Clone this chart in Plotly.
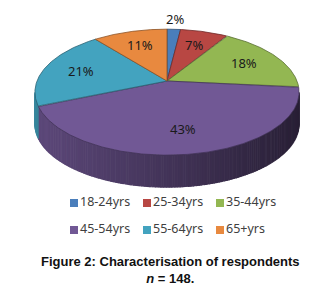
import numpy as np
import plotly.graph_objects as go

categories = ["18-24yrs", "25-34yrs", "35-44yrs", "45-54yrs", "55-64yrs", "65+yrs"]
percent = [2, 7, 18, 43, 21, 11]
labels = ["2%", "7%", "18%", "43%", "21%", "11%"]
colors = ["#4A7EBB", "#B84743", "#93B752", "#715895", "#43A3BF", "#E8893F"]

W, H = 329, 291
OFF = 8  # default page body margin
cx, cy = 167, 81          # apex (projected centre)
A, B, K = 130, 61, 0.177  # projection scales, perspective factor
DEPTH = 32


def proj(theta, r=1.0):
    u = r * np.sin(theta)
    v = r * np.cos(theta)
    w = 1 + K * v
    return cx + A * u / w, cy - B * v / w


def shade(hexc, f):
    h = hexc.lstrip("#")
    rgb = [int(h[i:i + 2], 16) for i in (0, 2, 4)]
    return "rgb(%d,%d,%d)" % tuple(max(0, min(255, int(c * f))) for c in rgb)


vals = np.array(percent, dtype=float)
frac = vals / vals.sum()
ends = np.cumsum(frac) * 2 * np.pi
starts = ends - frac * 2 * np.pi

fig = go.Figure()

# side wall (visible front part) drawn as thin shaded strips
tR = np.arccos(-K)
tL = 2 * np.pi - tR
for i in range(len(categories)):
    a0, a1 = max(starts[i], tR), min(ends[i], tL)
    if a1 <= a0:
        continue
    n = max(2, int((a1 - a0) / np.radians(1.0)) + 1)
    edges = np.linspace(a0, a1, n + 1)
    for j in range(n):
        t = np.linspace(edges[j], edges[j + 1], 3)
        xs, ys = proj(t)
        xm = float(np.mean(xs))
        f = 0.82 - 0.45 * (xm - (cx - A)) / (2 * A)
        px = list(xs) + list(xs[::-1])
        py = list(ys) + list((ys + DEPTH)[::-1])
        c = shade(colors[i], f)
        fig.add_trace(go.Scatter(x=px, y=py, mode="lines", fill="toself",
                                 fillcolor=c, line=dict(color=c, width=1.2),
                                 hoverinfo="skip", showlegend=False))

# top face slices
for i in range(len(categories)):
    t = np.linspace(starts[i], ends[i], max(3, int(np.degrees(ends[i] - starts[i]) * 2)))
    xs, ys = proj(t)
    px = [cx] + list(xs) + [cx]
    py = [cy] + list(ys) + [cy]
    fig.add_trace(go.Scatter(x=px, y=py, mode="lines", fill="toself",
                             fillcolor=colors[i],
                             line=dict(color=shade(colors[i], 0.6), width=0.8),
                             hoverinfo="skip", showlegend=False))

# data labels
mids = (starts + ends) / 2
for i, lab in enumerate(labels):
    r = 1.25 if frac[i] < 0.04 else 0.7
    lx, ly = proj(mids[i], r)
    fig.add_annotation(x=float(lx), y=float(ly), text=lab, showarrow=False,
                       font=dict(family="Noto Sans", size=13, color="#1a1a1a"))

# legend (2 rows x 3)
for i, cat in enumerate(categories):
    lx = 74 + (i % 3) * 73
    ly = 203 + (i // 3) * 27
    fig.add_trace(go.Scatter(x=[lx], y=[ly], mode="markers+text",
                             marker=dict(symbol="square", size=8, color=colors[i]),
                             text=[cat], textposition="middle right",
                             textfont=dict(family="Noto Sans", size=12.5, color="#404040"),
                             hoverinfo="skip", showlegend=False))

fig.add_annotation(x=170, y=270, xref="x", yref="y", yanchor="middle",
                   text="<b>Figure 2: Characterisation of respondents</b><br><b><i>n</i> = 148.</b>",
                   showarrow=False,
                   font=dict(family="Liberation Sans", size=13, color="#111111"))

fig.update_layout(
    width=W - OFF, height=H - OFF,
    margin=dict(l=0, r=0, t=0, b=0),
    paper_bgcolor="white", plot_bgcolor="white",
    xaxis=dict(range=[OFF, W], visible=False, fixedrange=True),
    yaxis=dict(range=[H, OFF], visible=False, fixedrange=True),
)

fig.write_html("out.html")
